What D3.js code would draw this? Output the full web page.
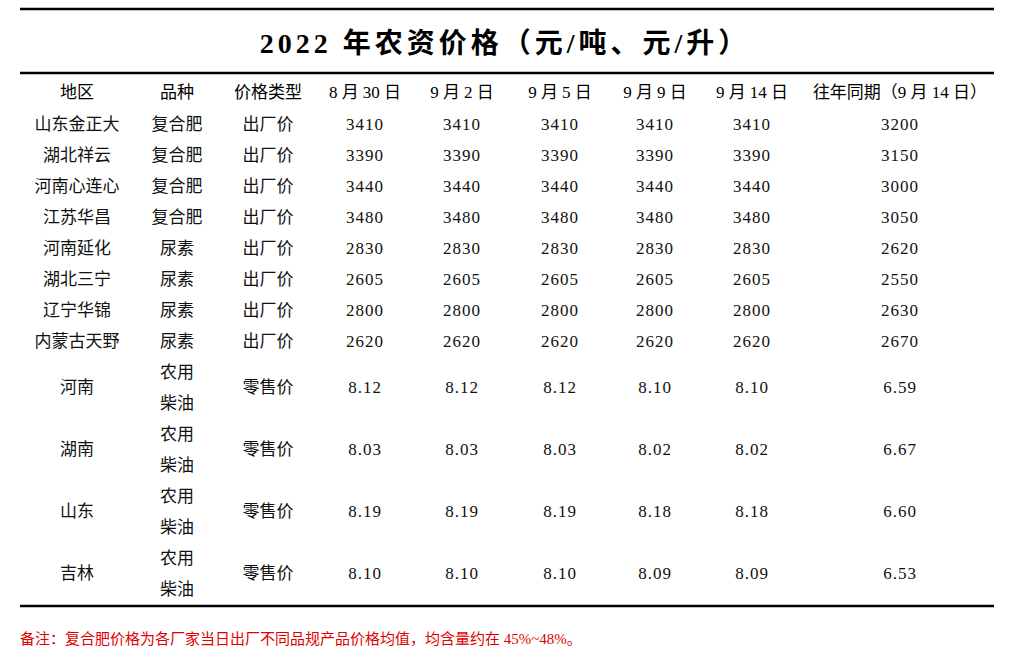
<!DOCTYPE html>
<html><head><meta charset="utf-8">
<script src="https://cdn.jsdelivr.net/npm/d3@7"></script>
<style>body{margin:0;background:#fff}text{font-family:"Liberation Serif","Noto Sans CJK SC",serif}</style>
</head><body><div id="chart"></div>
<script>
var title = "2022 年农资价格（元/吨、元/升）";
var headers = ["地区","品种","价格类型","8 月 30 日","9 月 2 日","9 月 5 日","9 月 9 日","9 月 14 日","往年同期（9 月 14 日）"];
var regions = ["山东金正大","湖北祥云","河南心连心","江苏华昌","河南延化","湖北三宁","辽宁华锦","内蒙古天野","河南","湖南","山东","吉林"];
var varieties = ["复合肥","复合肥","复合肥","复合肥","尿素","尿素","尿素","尿素","农用\n柴油","农用\n柴油","农用\n柴油","农用\n柴油"];
var priceTypes = ["出厂价","出厂价","出厂价","出厂价","出厂价","出厂价","出厂价","出厂价","零售价","零售价","零售价","零售价"];
var aug30 = ["3410","3390","3440","3480","2830","2605","2800","2620","8.12","8.03","8.19","8.10"];
var sep2  = ["3410","3390","3440","3480","2830","2605","2800","2620","8.12","8.03","8.19","8.10"];
var sep5  = ["3410","3390","3440","3480","2830","2605","2800","2620","8.12","8.03","8.19","8.10"];
var sep9  = ["3410","3390","3440","3480","2830","2605","2800","2620","8.10","8.02","8.18","8.09"];
var sep14 = ["3410","3390","3440","3480","2830","2605","2800","2620","8.10","8.02","8.18","8.09"];
var lastYear = ["3200","3150","3000","3050","2620","2550","2630","2670","6.59","6.67","6.60","6.53"];
var note = "备注：复合肥价格为各厂家当日出厂不同品规产品价格均值，均含量约在 45%~48%。";

var width = 1014, height = 662;
var svg = d3.select("#chart").append("svg").attr("width", width).attr("height", height);

var x = d3.scaleOrdinal().domain(d3.range(headers.length))
  .range([77,177,268,365,462,560,655,752,900]);
// row heights: single rows 1 unit, diesel rows 2 units
var units = regions.map(function(d,i){ return varieties[i].indexOf("\n")>=0 ? 2 : 1; });
var starts = [0]; units.forEach(function(u,i){ starts.push(starts[i]+u); });
var y = d3.scaleLinear().domain([0, starts[starts.length-1]]).range([108, 604]);

function hline(yy, w){ svg.append("line").attr("x1",20).attr("x2",994).attr("y1",yy).attr("y2",yy).attr("stroke","#000").attr("stroke-width",w); }
hline(9,2.5); hline(73,2.5); hline(606,2.5);

svg.append("text").attr("x",505).attr("y",53).attr("text-anchor","middle")
  .attr("font-size",28).attr("font-weight","bold").attr("letter-spacing",4).text(title);

svg.selectAll(".hd").data(headers).enter().append("text")
  .attr("x",function(d,i){return x(i);}).attr("y",98).attr("text-anchor","middle")
  .attr("font-size",17).text(function(d){return d;});

var cols = [regions, varieties, priceTypes, aug30, sep2, sep5, sep9, sep14, lastYear];
cols.forEach(function(col, c){
  col.forEach(function(v, r){
    var cy = y(starts[r] + units[r]/2);
    var lines = v.split("\n");
    lines.forEach(function(t, k){
      svg.append("text").attr("x", x(c)).attr("y", cy + 6 + (k - (lines.length-1)/2)*31)
        .attr("text-anchor","middle").attr("font-size",17).attr("fill","#111")
        .attr("letter-spacing", c >= 3 ? 1 : 0).text(t);
    });
  });
});

svg.append("text").attr("x",20).attr("y",644).attr("font-size",15).attr("fill","#e00000").text(note);
</script></body></html>
